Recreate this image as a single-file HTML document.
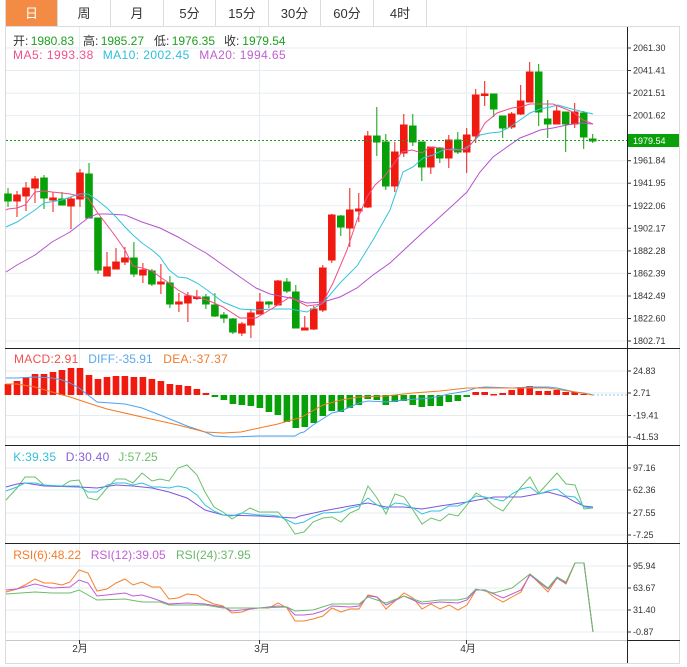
<!DOCTYPE html>
<html><head><meta charset="utf-8"><style>
html,body{margin:0;padding:0;background:#fff;}
svg{display:block;}
text{font-family:"Liberation Sans","Noto Sans CJK SC",sans-serif;}
</style></head><body>
<svg width="687" height="667" viewBox="0 0 687 667" xmlns="http://www.w3.org/2000/svg">
<rect x="0" y="0" width="687" height="667" fill="#fff"/>
<!-- tabs -->
<rect x="6" y="0" width="51" height="26" fill="#f38b44"/>
<g stroke="#dcdcdc" stroke-width="1">
<line x1="57.5" y1="0" x2="57.5" y2="26"/><line x1="110.5" y1="0" x2="110.5" y2="26"/>
<line x1="163.5" y1="0" x2="163.5" y2="26"/><line x1="215.5" y1="0" x2="215.5" y2="26"/>
<line x1="268.5" y1="0" x2="268.5" y2="26"/><line x1="320.5" y1="0" x2="320.5" y2="26"/>
<line x1="373.5" y1="0" x2="373.5" y2="26"/><line x1="426.5" y1="0" x2="426.5" y2="26"/>
<line x1="5" y1="26.5" x2="680" y2="26.5"/>
<line x1="5.5" y1="0" x2="5.5" y2="663"/>
<line x1="679.5" y1="26" x2="679.5" y2="663"/>
<line x1="5" y1="663.5" x2="680" y2="663.5"/>
</g>
<g font-size="13" text-anchor="middle" fill="#333">
<text x="31.5" y="18" fill="#fff">日</text>
<text x="84" y="18">周</text>
<text x="137" y="18">月</text>
<text x="189.5" y="18">5分</text>
<text x="242" y="18">15分</text>
<text x="294.5" y="18">30分</text>
<text x="347" y="18">60分</text>
<text x="400" y="18">4时</text>
</g>

<!-- grid -->
<g stroke="#e6edf2" stroke-width="1">
<line x1="6" y1="48" x2="627" y2="48"/><line x1="6" y1="70.5" x2="627" y2="70.5"/>
<line x1="6" y1="93.1" x2="627" y2="93.1"/><line x1="6" y1="115.6" x2="627" y2="115.6"/>
<line x1="6" y1="160.7" x2="627" y2="160.7"/><line x1="6" y1="183.2" x2="627" y2="183.2"/>
<line x1="6" y1="205.8" x2="627" y2="205.8"/><line x1="6" y1="228.3" x2="627" y2="228.3"/>
<line x1="6" y1="250.9" x2="627" y2="250.9"/><line x1="6" y1="273.4" x2="627" y2="273.4"/>
<line x1="6" y1="296" x2="627" y2="296"/><line x1="6" y1="318.5" x2="627" y2="318.5"/>
<line x1="6" y1="341" x2="627" y2="341"/>
<line x1="6" y1="371" x2="627" y2="371"/><line x1="6" y1="393" x2="627" y2="393"/>
<line x1="6" y1="415.5" x2="627" y2="415.5"/><line x1="6" y1="437" x2="627" y2="437"/>
<line x1="6" y1="468" x2="627" y2="468"/><line x1="6" y1="490" x2="627" y2="490"/>
<line x1="6" y1="513" x2="627" y2="513"/><line x1="6" y1="535" x2="627" y2="535"/>
<line x1="6" y1="566" x2="627" y2="566"/><line x1="6" y1="588" x2="627" y2="588"/>
<line x1="6" y1="610" x2="627" y2="610"/><line x1="6" y1="632" x2="627" y2="632"/>
<line x1="79.5" y1="27" x2="79.5" y2="640"/><line x1="259.5" y1="27" x2="259.5" y2="640"/>
<line x1="466.5" y1="27" x2="466.5" y2="640"/>
</g>

<!-- info text -->
<g font-size="12">
<text x="13" y="45" fill="#333">开:</text><text x="30.7" y="45" fill="#1f9f1f" textLength="43.3">1980.83</text>
<text x="83" y="45" fill="#333">高:</text><text x="100.7" y="45" fill="#1f9f1f" textLength="43.3">1985.27</text>
<text x="154" y="45" fill="#333">低:</text><text x="171.7" y="45" fill="#1f9f1f" textLength="43.3">1976.35</text>
<text x="224" y="45" fill="#333">收:</text><text x="242.3" y="45" fill="#1f9f1f" textLength="43.3">1979.54</text>
<text x="13" y="59" fill="#f0508a" textLength="80.3">MA5: 1993.38</text>
<text x="102.7" y="59" fill="#2cbfdc" textLength="86.6">MA10: 2002.45</text>
<text x="199.3" y="59" fill="#c05ed2" textLength="86.4">MA20: 1994.65</text>
<text x="14" y="363" fill="#f0504a" textLength="64.3">MACD:2.91</text>
<text x="88.3" y="363" fill="#58a8ec" textLength="64.4">DIFF:-35.91</text>
<text x="163.3" y="363" fill="#f07a2a" textLength="64.4">DEA:-37.37</text>
<text x="13.3" y="461" fill="#33c0d8" textLength="42.7">K:39.35</text>
<text x="65.7" y="461" fill="#8a5fd6" textLength="43.6">D:30.40</text>
<text x="118.3" y="461" fill="#6cbf6c" textLength="39.4">J:57.25</text>
<text x="13.3" y="559" fill="#f57c2a" textLength="67.7">RSI(6):48.22</text>
<text x="90.7" y="559" fill="#c25fd5" textLength="75">RSI(12):39.05</text>
<text x="176" y="559" fill="#6cb86c" textLength="74.7">RSI(24):37.95</text>
</g>

<!-- candles -->
<g stroke-width="1">
<g stroke="#08a008" fill="#08a008">
<line x1="8" y1="188" x2="8" y2="207"/><rect x="4.7" y="194" width="6.6" height="7"/>
<line x1="44" y1="175" x2="44" y2="209"/><rect x="40.7" y="178" width="6.6" height="20"/>
<line x1="62" y1="192" x2="62" y2="205"/><rect x="58.7" y="199" width="6.6" height="6"/>
<line x1="89" y1="163" x2="89" y2="218"/><rect x="85.7" y="174" width="6.6" height="44"/>
<line x1="98" y1="218" x2="98" y2="274"/><rect x="94.7" y="218" width="6.6" height="52"/>
<line x1="133.9" y1="242" x2="133.9" y2="277"/><rect x="130.6" y="258" width="6.6" height="16"/>
<line x1="151.9" y1="269" x2="151.9" y2="286"/><rect x="148.6" y="271" width="6.6" height="13"/>
<line x1="169.9" y1="276" x2="169.9" y2="308"/><rect x="166.6" y="283" width="6.6" height="21"/>
<line x1="205.9" y1="294" x2="205.9" y2="309"/><rect x="202.6" y="297" width="6.6" height="7"/>
<line x1="214.9" y1="293" x2="214.9" y2="317"/><rect x="211.6" y="305" width="6.6" height="11"/>
<line x1="223.9" y1="312" x2="223.9" y2="323"/><rect x="220.6" y="315" width="6.6" height="3"/>
<line x1="232.9" y1="318" x2="232.9" y2="334"/><rect x="229.6" y="319" width="6.6" height="13"/>
<line x1="268.9" y1="301" x2="268.9" y2="308"/><rect x="265.6" y="302" width="6.6" height="2"/>
<line x1="286.9" y1="278" x2="286.9" y2="293"/><rect x="283.6" y="282" width="6.6" height="9"/>
<line x1="295.8" y1="285" x2="295.8" y2="328"/><rect x="292.5" y="292" width="6.6" height="36"/>
<line x1="340.8" y1="215" x2="340.8" y2="236"/><rect x="337.5" y="216" width="6.6" height="11"/>
<line x1="376.8" y1="107" x2="376.8" y2="156"/><rect x="373.5" y="136" width="6.6" height="6"/>
<line x1="385.8" y1="134" x2="385.8" y2="190"/><rect x="382.5" y="142" width="6.6" height="44"/>
<line x1="412.8" y1="114" x2="412.8" y2="146"/><rect x="409.5" y="126" width="6.6" height="16"/>
<line x1="421.8" y1="142" x2="421.8" y2="181"/><rect x="418.5" y="142" width="6.6" height="25"/>
<line x1="439.8" y1="147" x2="439.8" y2="163"/><rect x="436.5" y="148" width="6.6" height="10"/>
<line x1="457.8" y1="132" x2="457.8" y2="154"/><rect x="454.5" y="140" width="6.6" height="12"/>
<line x1="493.7" y1="94" x2="493.7" y2="117"/><rect x="490.4" y="94" width="6.6" height="15"/>
<line x1="502.7" y1="116" x2="502.7" y2="138"/><rect x="499.4" y="116" width="6.6" height="12"/>
<line x1="538.7" y1="64" x2="538.7" y2="126"/><rect x="535.4" y="72" width="6.6" height="40"/>
<line x1="547.7" y1="100" x2="547.7" y2="138"/><rect x="544.4" y="119" width="6.6" height="5"/>
<line x1="565.7" y1="112" x2="565.7" y2="152"/><rect x="562.4" y="112" width="6.6" height="12"/>
<line x1="583.7" y1="111" x2="583.7" y2="149"/><rect x="580.4" y="113" width="6.6" height="24"/>
<line x1="592.7" y1="134" x2="592.7" y2="143"/><rect x="589.4" y="139" width="6.6" height="2"/>
</g>
<g stroke="#f01a10" fill="#f01a10">
<line x1="17" y1="191" x2="17" y2="217"/><rect x="13.7" y="195" width="6.6" height="6"/>
<line x1="26" y1="182" x2="26" y2="211"/><rect x="22.7" y="188" width="6.6" height="8"/>
<line x1="35" y1="176" x2="35" y2="203"/><rect x="31.7" y="179" width="6.6" height="9"/>
<line x1="53" y1="192" x2="53" y2="212"/><rect x="49.7" y="198" width="6.6" height="2"/>
<line x1="71" y1="197" x2="71" y2="229"/><rect x="67.7" y="199" width="6.6" height="7"/>
<line x1="80" y1="169" x2="80" y2="207"/><rect x="76.7" y="173" width="6.6" height="26"/>
<line x1="107" y1="252" x2="107" y2="276"/><rect x="103.7" y="267" width="6.6" height="9"/>
<line x1="116" y1="248" x2="116" y2="269"/><rect x="112.7" y="262" width="6.6" height="7"/>
<line x1="124.9" y1="247" x2="124.9" y2="265"/><rect x="121.6" y="258" width="6.6" height="4"/>
<line x1="142.9" y1="263" x2="142.9" y2="283"/><rect x="139.6" y="270" width="6.6" height="5"/>
<line x1="160.9" y1="264" x2="160.9" y2="294"/><rect x="157.6" y="282" width="6.6" height="2"/>
<line x1="178.9" y1="293" x2="178.9" y2="312"/><rect x="175.6" y="302" width="6.6" height="2"/>
<line x1="187.9" y1="292" x2="187.9" y2="322"/><rect x="184.6" y="296" width="6.6" height="7"/>
<line x1="196.9" y1="290" x2="196.9" y2="300"/><rect x="193.6" y="297" width="6.6" height="1.5"/>
<line x1="241.9" y1="322" x2="241.9" y2="336"/><rect x="238.6" y="324" width="6.6" height="9"/>
<line x1="250.9" y1="309" x2="250.9" y2="338"/><rect x="247.6" y="313" width="6.6" height="12"/>
<line x1="259.9" y1="293" x2="259.9" y2="314"/><rect x="256.6" y="302" width="6.6" height="12"/>
<line x1="277.9" y1="280" x2="277.9" y2="305"/><rect x="274.6" y="281" width="6.6" height="24"/>
<line x1="304.8" y1="316" x2="304.8" y2="330"/><rect x="301.5" y="328" width="6.6" height="2"/>
<line x1="313.8" y1="306" x2="313.8" y2="330"/><rect x="310.5" y="309" width="6.6" height="20"/>
<line x1="322.8" y1="265" x2="322.8" y2="312"/><rect x="319.5" y="268" width="6.6" height="42"/>
<line x1="331.8" y1="214" x2="331.8" y2="263"/><rect x="328.5" y="215" width="6.6" height="45"/>
<line x1="349.8" y1="188" x2="349.8" y2="247"/><rect x="346.5" y="210" width="6.6" height="18"/>
<line x1="358.8" y1="193" x2="358.8" y2="222"/><rect x="355.5" y="209" width="6.6" height="2"/>
<line x1="367.8" y1="131" x2="367.8" y2="208"/><rect x="364.5" y="136" width="6.6" height="71"/>
<line x1="394.8" y1="142" x2="394.8" y2="192"/><rect x="391.5" y="152" width="6.6" height="34"/>
<line x1="403.8" y1="114" x2="403.8" y2="157"/><rect x="400.5" y="125" width="6.6" height="28"/>
<line x1="430.8" y1="147" x2="430.8" y2="174"/><rect x="427.5" y="147" width="6.6" height="20"/>
<line x1="448.8" y1="135" x2="448.8" y2="168"/><rect x="445.5" y="140" width="6.6" height="18"/>
<line x1="466.7" y1="128" x2="466.7" y2="173"/><rect x="463.4" y="135" width="6.6" height="17"/>
<line x1="475.7" y1="89" x2="475.7" y2="143"/><rect x="472.4" y="95" width="6.6" height="41"/>
<line x1="484.7" y1="81" x2="484.7" y2="106"/><rect x="481.4" y="94" width="6.6" height="1.5"/>
<line x1="511.7" y1="112" x2="511.7" y2="129"/><rect x="508.4" y="114" width="6.6" height="13"/>
<line x1="520.7" y1="85" x2="520.7" y2="115"/><rect x="517.4" y="101" width="6.6" height="13"/>
<line x1="529.7" y1="62" x2="529.7" y2="102"/><rect x="526.4" y="72" width="6.6" height="30"/>
<line x1="556.7" y1="105" x2="556.7" y2="124"/><rect x="553.4" y="111" width="6.6" height="13"/>
<line x1="574.7" y1="103" x2="574.7" y2="128"/><rect x="571.4" y="112" width="6.6" height="12"/>
</g>
</g>

<!-- MA lines -->
<g fill="none" stroke-width="1">
<polyline stroke="#b552cf" points="6,272 17,265 35,255 52,242 70,232 88,218 97,214 107,214 125,215 142,222 160,228 178,237 197,248 206,253 223,265 240,277 256,288 270,294 290,298 307,303 323,302 340,297 357,288 373,275 390,263 420,235 453,205 467,192 480,172 493,157 507,147 520,138 533,133 540,130 553,128 567,125 580,123 593,124"/>
<polyline stroke="#33c3dd" points="6,227 17,222 35,210 44,203 62,200 79,194 88,194 97,200 107,208 116,217 125,227 133,235 142,243 152,250 160,257 169,270 178,277 187,278 197,283 207,290 223,302 240,309 256,310 273,309 290,309 307,312 323,303 340,283 357,266 373,240 390,210 403,172 413,167 423,158 433,155 443,150 453,149 462,150 470,145 480,135 490,133 500,132 510,127 520,120 530,113 540,109 550,107 558,105 568,108 580,111 593,114"/>
<polyline stroke="#f04e87" points="6,210 8,209 17,208 25,205 35,192 44,191 52,192 62,193 70,194 79,196 88,198 97,212 107,225 116,237 125,250 133,266 142,268 152,271 160,277 169,283 178,290 187,295 197,297 207,300 223,307 240,318 256,318 273,308 290,297 307,306 322,304 333,283 347,250 357,220 367,197 375,185 383,178 393,165 402,152 412,150 422,153 430,147 440,148 450,150 458,150 467,149 477,137 485,123 497,113 512,108 520,107 530,104 540,104 553,104 563,108 573,112 583,120 593,124"/>
</g>

<!-- current price line -->
<line x1="6" y1="140.5" x2="627" y2="140.5" stroke="#18a018" stroke-width="1" stroke-dasharray="2,2"/>

<!-- MACD bars -->
<g fill="#f01a10">
<rect x="4.7" y="384" width="6.6" height="11"/><rect x="13.7" y="381" width="6.6" height="14"/>
<rect x="22.7" y="377" width="6.6" height="18"/><rect x="31.7" y="374" width="6.6" height="21"/>
<rect x="40.7" y="374" width="6.6" height="21"/><rect x="49.7" y="372" width="6.6" height="23"/>
<rect x="58.7" y="370" width="6.6" height="25"/><rect x="67.7" y="368" width="6.6" height="27"/>
<rect x="76.7" y="368" width="6.6" height="27"/><rect x="85.7" y="375" width="6.6" height="20"/>
<rect x="94.7" y="379" width="6.6" height="16"/><rect x="103.7" y="377" width="6.6" height="18"/>
<rect x="112.7" y="376" width="6.6" height="19"/><rect x="121.6" y="376" width="6.6" height="19"/>
<rect x="130.6" y="377" width="6.6" height="18"/><rect x="139.6" y="377" width="6.6" height="18"/>
<rect x="148.6" y="379" width="6.6" height="16"/><rect x="157.6" y="381" width="6.6" height="14"/>
<rect x="166.6" y="384" width="6.6" height="11"/><rect x="175.6" y="385" width="6.6" height="10"/>
<rect x="184.6" y="386" width="6.6" height="9"/><rect x="193.6" y="389" width="6.6" height="6"/>
<rect x="202.6" y="393" width="6.6" height="2"/>
<rect x="472.4" y="392" width="6.6" height="3"/><rect x="481.4" y="392" width="6.6" height="3"/>
<rect x="490.4" y="394" width="6.6" height="1.5"/><rect x="499.4" y="393" width="6.6" height="2"/>
<rect x="508.4" y="390" width="6.6" height="5"/><rect x="517.4" y="387" width="6.6" height="8"/>
<rect x="526.4" y="386" width="6.6" height="9"/><rect x="535.4" y="391" width="6.6" height="4"/>
<rect x="544.4" y="391" width="6.6" height="4"/><rect x="553.4" y="390" width="6.6" height="5"/>
<rect x="562.4" y="392" width="6.6" height="3"/><rect x="571.4" y="392" width="6.6" height="3"/>
<rect x="580.4" y="394" width="6.6" height="1"/>
</g>
<g fill="#08a008">
<rect x="211.6" y="395" width="6.6" height="2"/><rect x="220.6" y="395" width="6.6" height="5"/>
<rect x="229.6" y="395" width="6.6" height="9"/><rect x="238.6" y="395" width="6.6" height="10"/>
<rect x="247.6" y="395" width="6.6" height="11"/><rect x="256.6" y="395" width="6.6" height="13"/>
<rect x="265.6" y="395" width="6.6" height="17"/><rect x="274.6" y="395" width="6.6" height="20"/>
<rect x="283.6" y="395" width="6.6" height="27"/><rect x="292.5" y="395" width="6.6" height="33"/>
<rect x="301.5" y="395" width="6.6" height="32"/><rect x="310.5" y="395" width="6.6" height="28"/>
<rect x="319.5" y="395" width="6.6" height="21"/><rect x="328.5" y="395" width="6.6" height="16"/>
<rect x="337.5" y="395" width="6.6" height="17"/><rect x="346.5" y="395" width="6.6" height="13"/>
<rect x="355.5" y="395" width="6.6" height="10"/><rect x="364.5" y="395" width="6.6" height="4"/>
<rect x="373.5" y="395" width="6.6" height="5"/><rect x="382.5" y="395" width="6.6" height="10"/>
<rect x="391.5" y="395" width="6.6" height="7"/><rect x="400.5" y="395" width="6.6" height="6"/>
<rect x="409.5" y="395" width="6.6" height="10"/><rect x="418.5" y="395" width="6.6" height="12"/>
<rect x="427.5" y="395" width="6.6" height="11"/><rect x="436.5" y="395" width="6.6" height="11"/>
<rect x="445.5" y="395" width="6.6" height="7"/><rect x="454.5" y="395" width="6.6" height="6"/>
<rect x="463.4" y="395" width="6.6" height="2"/>
</g>
<g fill="none" stroke-width="1">
<polyline stroke="#4da3f0" points="6,378 17,378 35,377 52,378 62,380 70,383 79,388 88,395 97,402 125,404 142,408 160,415 187,426 205,432 214,436 232,437 259,436 287,436 295,436 300,433 304,432 313,425 332,413 341,411 359,403 368,401 386,402 404,400 431,398 449,394 467,391 476,388 485,387 512,388 530,387 548,387 557,388 575,392 584,393 593,395"/>
<polyline stroke="#f57a20" points="6,384 17,384 35,387 52,392 70,397 88,403 107,409 142,417 178,425 205,432 223,433 241,432 259,428 278,424 295,419 300,418 323,405 341,400 359,397 386,396 413,393 440,391 467,388 494,388 521,388 548,388 575,392 593,395"/>
</g>
<line x1="593" y1="395" x2="627" y2="395" stroke="#8cc8ee" stroke-dasharray="2,2"/>

<!-- KDJ -->
<g fill="none" stroke-width="1">
<polyline stroke="#6cbf6c" points="6,500 17,488 25,477 35,477 44,485 52,486 62,486 70,481 79,480 88,498 97,500 107,488 116,479 125,479 133,483 142,473 152,481 160,479 169,481 178,468 187,465 197,475 205,492 214,507 223,512 232,519 242,513 250,508 259,512 269,512 278,512 287,522 295,534 304,532 313,522 323,518 332,517 341,522 350,513 359,509 368,486 377,498 386,514 395,494 404,497 413,510 422,524 431,518 440,521 449,514 458,516 467,505 476,493 485,498 494,506 503,511 512,499 521,487 530,477 539,493 548,483 557,473 566,484 575,485 584,509 593,508"/>
<polyline stroke="#7f56d9" points="6,487 17,484 25,483 44,486 79,487 97,488 116,485 133,486 152,488 169,492 187,498 205,510 223,515 259,516 295,518 300,516 323,511 350,506 368,503 386,507 404,507 422,509 440,506 467,502 494,497 521,497 548,492 566,497 575,502 584,506 593,507"/>
<polyline stroke="#2fc4dc" points="6,491 17,487 25,483 35,483 44,485 62,486 79,486 88,492 97,492 107,485 116,483 125,483 133,485 142,483 152,487 160,487 169,488 178,486 187,488 197,495 205,505 214,511 223,515 232,516 242,513 250,514 259,515 269,515 278,516 287,520 295,524 304,522 313,517 323,513 341,512 350,508 359,506 368,498 377,505 386,509 395,503 404,504 413,508 422,514 431,511 440,511 449,506 458,506 467,502 476,496 485,497 494,499 503,501 512,494 521,489 530,487 539,494 548,491 557,489 566,496 575,497 584,507 593,508"/>
</g>

<!-- RSI -->
<g fill="none" stroke-width="1">
<polyline stroke="#f5802a" points="6,592 17,589 25,585 35,579 44,583 52,583 62,585 70,582 79,570 88,573 97,591 107,589 116,583 125,579 133,585 142,582 152,587 160,587 169,599 178,598 187,594 197,595 205,600 214,604 223,606 232,613 242,612 250,609 259,608 269,608 278,603 287,608 295,621 304,621 313,619 323,616 332,608 341,612 350,609 359,609 368,595 377,597 386,609 395,601 404,593 413,598 422,609 431,604 440,609 449,605 458,610 467,605 476,590 485,590 494,597 503,602 512,597 521,592 530,574 539,583 548,592 557,578 566,584 575,563 584,563 593,632"/>
<polyline stroke="#c05bd6" points="6,590 17,589 35,584 52,588 70,587 79,580 88,583 97,596 116,594 125,593 133,596 142,595 152,598 169,604 187,603 205,604 223,607 232,611 259,608 278,606 287,607 295,615 304,615 313,614 323,611 332,606 350,607 359,606 368,596 377,597 386,605 404,596 422,604 440,602 458,603 467,600 476,590 485,590 503,598 521,590 530,575 548,589 557,578 566,583 575,563 584,563 593,632"/>
<polyline stroke="#6cbb6c" points="6,594 35,592 52,593 70,593 79,590 97,600 125,599 142,602 160,602 169,605 205,605 223,608 259,608 287,607 295,611 313,610 332,604 359,604 368,597 386,603 404,596 422,602 440,600 458,600 467,598 476,589 494,593 512,588 530,574 548,588 557,577 566,582 575,563 584,563 593,632"/>
</g>

<!-- separators -->
<g stroke="#222" stroke-width="1">
<line x1="5" y1="348.5" x2="680" y2="348.5"/>
<line x1="5" y1="445.5" x2="680" y2="445.5"/>
<line x1="5" y1="543.5" x2="680" y2="543.5"/>
<line x1="627" y1="640.5" x2="680" y2="640.5"/>
<line x1="627.5" y1="27" x2="627.5" y2="663"/>
</g>
<line x1="6" y1="640.5" x2="627" y2="640.5" stroke="#c8c8c8"/>
<!-- ticks -->
<g stroke="#333" stroke-width="1">
<line x1="627" y1="48" x2="631" y2="48"/><line x1="627" y1="70.5" x2="631" y2="70.5"/>
<line x1="627" y1="93.1" x2="631" y2="93.1"/><line x1="627" y1="115.6" x2="631" y2="115.6"/>
<line x1="627" y1="160.7" x2="631" y2="160.7"/><line x1="627" y1="183.2" x2="631" y2="183.2"/>
<line x1="627" y1="205.8" x2="631" y2="205.8"/><line x1="627" y1="228.3" x2="631" y2="228.3"/>
<line x1="627" y1="250.9" x2="631" y2="250.9"/><line x1="627" y1="273.4" x2="631" y2="273.4"/>
<line x1="627" y1="296" x2="631" y2="296"/><line x1="627" y1="318.5" x2="631" y2="318.5"/>
<line x1="627" y1="341" x2="631" y2="341"/>
<line x1="627" y1="371" x2="631" y2="371"/><line x1="627" y1="393" x2="631" y2="393"/>
<line x1="627" y1="415.5" x2="631" y2="415.5"/><line x1="627" y1="437" x2="631" y2="437"/>
<line x1="627" y1="468" x2="631" y2="468"/><line x1="627" y1="490" x2="631" y2="490"/>
<line x1="627" y1="513" x2="631" y2="513"/><line x1="627" y1="535" x2="631" y2="535"/>
<line x1="627" y1="566" x2="631" y2="566"/><line x1="627" y1="588" x2="631" y2="588"/>
<line x1="627" y1="610" x2="631" y2="610"/><line x1="627" y1="632" x2="631" y2="632"/>
<line x1="79.5" y1="640" x2="79.5" y2="644"/><line x1="259.5" y1="640" x2="259.5" y2="644"/>
<line x1="466.5" y1="640" x2="466.5" y2="644"/>
</g>
<!-- axis labels -->
<g font-size="9" fill="#333">
<text x="633" y="51">2061.30</text><text x="633" y="73.5">2041.41</text>
<text x="633" y="96.1">2021.51</text><text x="633" y="118.6">2001.62</text>
<text x="633" y="163.7">1961.84</text><text x="633" y="186.2">1941.95</text>
<text x="633" y="208.8">1922.06</text><text x="633" y="231.3">1902.17</text>
<text x="633" y="253.9">1882.28</text><text x="633" y="276.4">1862.39</text>
<text x="633" y="299">1842.49</text><text x="633" y="321.5">1822.60</text>
<text x="633" y="344">1802.71</text>
<text x="633" y="374">24.83</text><text x="633" y="396">2.71</text>
<text x="633" y="418.5">-19.41</text><text x="633" y="440">-41.53</text>
<text x="633" y="471">97.16</text><text x="633" y="493">62.36</text>
<text x="633" y="516">27.55</text><text x="633" y="538">-7.25</text>
<text x="633" y="569">95.94</text><text x="633" y="591">63.67</text>
<text x="633" y="613">31.40</text><text x="633" y="635">-0.87</text>
</g>
<rect x="628" y="134" width="51" height="13" fill="#0aa00a"/>
<text x="633" y="144" font-size="9" fill="#fff">1979.54</text>
<g font-size="10" fill="#333" text-anchor="middle">
<text x="80" y="652">2月</text><text x="262" y="652">3月</text><text x="468" y="652">4月</text>
</g>
</svg>
</body></html>
